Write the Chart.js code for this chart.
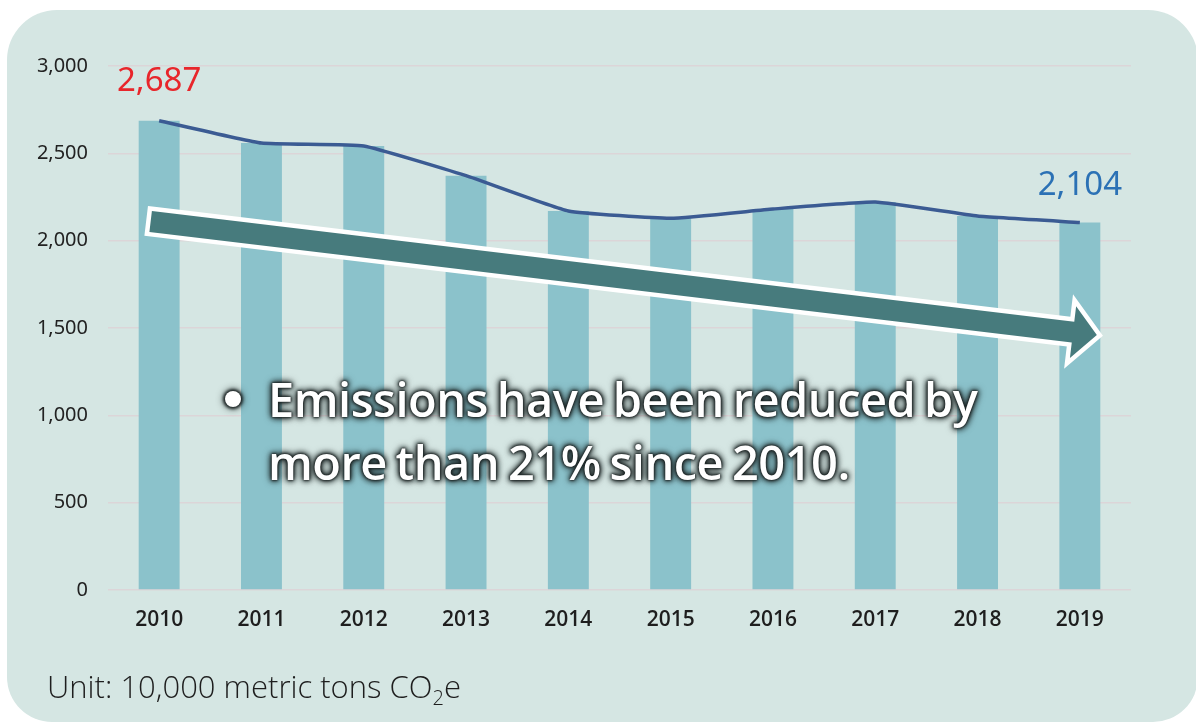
<!DOCTYPE html>
<html><head><meta charset="utf-8">
<script src="https://cdn.jsdelivr.net/npm/chart.js@4.4.0/dist/chart.umd.min.js"></script>
<style>
html,body{margin:0;padding:0;background:#fff;width:1196px;height:722px;overflow:hidden;}
#card{position:absolute;left:7px;top:10px;width:1191px;height:712px;border-radius:50px 50px 45px 45px;background:#d5e6e3;}
#wrap{position:absolute;left:0;top:0;width:1196px;height:722px;}
#msg{position:absolute;left:268px;top:368px;color:#fff;font-family:'Open Sans',sans-serif;font-weight:600;font-size:47px;line-height:63px;white-space:nowrap;
 text-shadow:0 0 2px #1b2323,0 0 3px #1b2323,0 0 5px #1b2323,0 0 7px #1b2323,0 0 9px rgba(27,35,35,0.7);letter-spacing:-0.5px;word-spacing:-3px;}
#bullet{position:absolute;left:225px;top:391px;width:16px;height:16px;border-radius:50%;background:#fff;
 box-shadow:0 0 3px 2px #1b2323,0 0 7px 2px rgba(27,35,35,0.7);}
#unit{position:absolute;left:47px;top:667px;color:#1e1e1e;font-family:'Open Sans',sans-serif;font-weight:300;font-size:31px;line-height:38px;white-space:nowrap;}
#unit sub{font-size:20px;vertical-align:-7px;line-height:0;}
</style></head>
<body>
<div id="card"></div>
<div id="wrap"><canvas id="c"></canvas></div>
<div id="bullet"></div>
<div id="msg">Emissions have been reduced by<br>more than 21% since 2010.</div>
<div id="unit">Unit: 10,000 metric tons CO<sub>2</sub>e</div>
<script>
const years = ['2010','2011','2012','2013','2014','2015','2016','2017','2018','2019'];
const emissions = [2687, 2559, 2542, 2372, 2170, 2128, 2181, 2221, 2141, 2104];
const yTicks = [0, 500, 1000, 1500, 2000, 2500, 3000];
const highlightFirst = '2,687';
const highlightLast = '2,104';

const fmt = v => v.toLocaleString('en-US');

const endLabels = {
  id: 'endLabels',
  afterDatasetsDraw(chart) {
    const ctx = chart.ctx;
    const x = chart.scales.x, y = chart.scales.y;
    ctx.save();
    ctx.font = '33px "Noto Sans"';
    ctx.textAlign = 'center';
    ctx.textBaseline = 'middle';
    ctx.fillStyle = '#e8262b';
    ctx.fillText(highlightFirst, x.getPixelForValue(0), y.getPixelForValue(emissions[0]) - 39);
    ctx.fillStyle = '#2b71b5';
    ctx.fillText(highlightLast, x.getPixelForValue(9), y.getPixelForValue(emissions[9]) - 37);
    ctx.restore();
  }
};

const trendArrow = {
  id: 'trendArrow',
  afterDatasetsDraw(chart) {
    const ctx = chart.ctx;
    const x = chart.scales.x, y = chart.scales.y;
    const S = {x: x.getPixelForValue(0) - 8.5, y: y.getPixelForValue(2110)};
    const T = {x: x.getPixelForValue(9) + 17, y: y.getPixelForValue(1460)};
    const dx = T.x - S.x, dy = T.y - S.y, len = Math.hypot(dx, dy);
    const u = {x: dx/len, y: dy/len}, n = {x: -u.y, y: u.x};
    const h = 10.5, H = 26, L = 24;
    const B = {x: T.x - u.x*L, y: T.y - u.y*L};
    const P = (p, k) => [p.x + n.x*k, p.y + n.y*k];
    const pts = [P(S,-h), P(B,-h), P(B,-H), [T.x,T.y], P(B,H), P(B,h), P(S,h)];
    ctx.save();
    ctx.beginPath();
    pts.forEach((p,i)=> i? ctx.lineTo(p[0],p[1]) : ctx.moveTo(p[0],p[1]));
    ctx.closePath();
    ctx.lineJoin = 'miter';
    ctx.miterLimit = 10;
    ctx.lineWidth = 9;
    ctx.strokeStyle = '#ffffff';
    ctx.stroke();
    ctx.fillStyle = '#477b7d';
    ctx.fill();
    ctx.restore();
  }
};

new Chart(document.getElementById('c'), {
  data: {
    labels: years,
    datasets: [
      { type: 'line', data: emissions, borderColor: '#3b5b93', borderWidth: 3.5, pointRadius: 0, tension: 0.12, fill: false, order: 0 },
      { type: 'bar', data: emissions, backgroundColor: '#8bc2cb', barPercentage: 0.4, categoryPercentage: 1, order: 1 }
    ]
  },
  options: {
    responsive: true, maintainAspectRatio: false, animation: false,
    layout: { padding: { top: 66, right: 65, left: 0, bottom: 0 } },
    plugins: { legend: { display: false }, tooltip: { enabled: false } },
    scales: {
      x: {
        grid: { display: false, drawTicks: false },
        border: { display: false },
        ticks: { color: '#1e1e1e', font: { family: 'Open Sans', size: 21, weight: 600 }, padding: 17 },
        afterFit(s) { s.height = 132; }
      },
      y: {
        min: 0, max: 3000,
        afterBuildTicks(s) { s.ticks = yTicks.map(v => ({value: v})); },
        grid: { color: '#dcd5d8', lineWidth: 1.5, drawTicks: false },
        border: { display: false },
        ticks: { color: '#222', font: { family: 'Noto Sans', size: 20 }, padding: 20, callback: v => fmt(v) },
        afterFit(s) { s.width = 108; }
      }
    }
  },
  plugins: [trendArrow, endLabels]
});
</script>
</body></html>
